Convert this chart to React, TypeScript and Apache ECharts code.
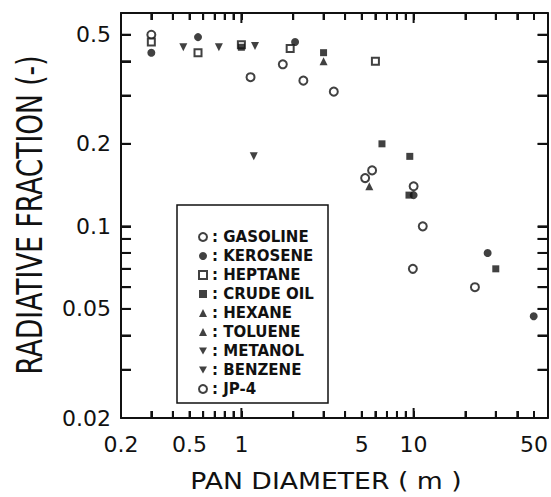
import { useEffect, useRef } from "react";
import * as echarts from "echarts";

// Axis ticks and labels (pan diameter in m, radiative fraction)
const xLabelValues = [0.2, 0.5, 1, 5, 10, 50];
const xTicks = [0.3, 0.4, 0.5, 0.6, 0.7, 0.8, 0.9, 1, 2, 3, 4, 5, 6, 7, 8, 9, 10, 20, 30, 40, 50];
const xMajorTicks = [1, 10];
const yLabelValues = [0.02, 0.05, 0.1, 0.2, 0.5];
const yTicks = [0.03, 0.04, 0.05, 0.06, 0.07, 0.08, 0.09, 0.1, 0.2, 0.3, 0.4, 0.5];

// Measured points: [pan diameter (m), radiative fraction (-)]
const gasoline = [[0.3, 0.5], [1.13, 0.35], [1.74, 0.39], [2.29, 0.34], [3.44, 0.31]];
const kerosene = [[0.3, 0.43], [0.56, 0.49], [2.05, 0.47], [10.0, 0.13], [26.9, 0.08], [49.8, 0.047]];
const heptane = [[0.3, 0.47], [0.56, 0.43], [1.0, 0.46], [1.92, 0.445], [6.0, 0.4]];
const crudeOil = [[1.0, 0.45], [3.0, 0.43], [6.55, 0.2], [9.5, 0.18], [9.4, 0.13], [30, 0.07]];
const hexane = [[5.53, 0.14]];
const toluene = [[3.0, 0.4]];
const metanol = [[1.18, 0.18]];
const benzene = [[0.46, 0.45], [0.74, 0.45], [1.2, 0.455]];
const jp4 = [[5.23, 0.15], [5.74, 0.16], [10.0, 0.14], [11.3, 0.1], [9.9, 0.07], [22.7, 0.06]];

const X_MIN = 0.2;
const X_MAX = 60;
const Y_MIN = 0.02;
const Y_MAX = 0.6;

const FONT = "DejaVu Sans";
const INK = "#111";
const DOWN_TRIANGLE = "path://M0,0L10,0L5,9Z";

function scatter(name: string, data: number[][], symbol: string, size: number, rotate = 0) {
  const empty = symbol.startsWith("empty");
  return {
    type: "scatter",
    name,
    data,
    symbol,
    symbolSize: size,
    symbolRotate: rotate,
    itemStyle: { color: INK, borderColor: INK, borderWidth: empty ? 1.5 : 0 },
    z: 3,
  };
}

const fuelSeries = [
  scatter("GASOLINE", gasoline, "emptyCircle", 8),
  scatter("KEROSENE", kerosene, "circle", 8),
  scatter("HEPTANE", heptane, "emptyRect", 7),
  scatter("CRUDE OIL", crudeOil, "rect", 7),
  scatter("HEXANE", hexane, "triangle", 8),
  scatter("TOLUENE", toluene, "triangle", 8),
  scatter("METANOL", metanol, "triangle", 8, 180),
  scatter("BENZENE", benzene, "triangle", 8, 180),
  scatter("JP-4", jp4, "emptyCircle", 8),
];

function xAxis(position: string, withLabels: boolean) {
  return {
    type: "log",
    min: X_MIN,
    max: X_MAX,
    position,
    axisLine: { show: true, lineStyle: { color: INK, width: 2 } },
    axisTick: { show: true, inside: true, length: 7, customValues: xTicks, lineStyle: { color: INK, width: 2 } },
    axisLabel: withLabels
      ? {
          show: true,
          customValues: xLabelValues,
          formatter: (v: number) => String(v),
          margin: 15,
          fontSize: 22,
          fontFamily: FONT,
          color: INK,
        }
      : { show: false },
    splitLine: { show: false },
  };
}

function yAxis(position: string, withLabels: boolean) {
  return {
    type: "log",
    min: Y_MIN,
    max: Y_MAX,
    position,
    axisLine: { show: true, lineStyle: { color: INK, width: 2 } },
    axisTick: { show: true, inside: true, length: 10, customValues: yTicks, lineStyle: { color: INK, width: 2 } },
    axisLabel: withLabels
      ? {
          show: true,
          customValues: yLabelValues,
          formatter: (v: number) => String(v),
          margin: 10,
          fontSize: 22,
          fontFamily: FONT,
          color: INK,
        }
      : { show: false },
    splitLine: { show: false },
  };
}

const staticGraphics = [
  {
    id: "legend-box",
    type: "rect",
    shape: { x: 177, y: 205, width: 151, height: 198 },
    style: { fill: "none", stroke: INK, lineWidth: 1.5 },
  },
  {
    id: "x-title",
    type: "text",
    x: 326,
    y: 481,
    scaleX: 1.16,
    style: {
      text: "PAN DIAMETER ( m )",
      fontFamily: FONT,
      fontSize: 23,
      fill: INK,
      align: "center",
      verticalAlign: "middle",
    },
  },
  {
    id: "y-title",
    type: "text",
    x: 29,
    y: 215,
    rotation: Math.PI / 2,
    scaleY: 1.35,
    style: {
      text: "RADIATIVE FRACTION (-)",
      fontFamily: FONT,
      fontSize: 26.5,
      fill: INK,
      align: "center",
      verticalAlign: "middle",
    },
  },
];

const option = {
  animation: false,
  grid: { left: 121, right: -2, top: 13, bottom: 79 },
  xAxis: [xAxis("bottom", true), xAxis("top", false)],
  yAxis: [yAxis("left", true), yAxis("right", false)],
  legend: {
    orient: "vertical",
    left: 198,
    top: 229.5,
    padding: 0,
    itemGap: 4,
    itemWidth: 8,
    itemHeight: 8,
    formatter: (n: string) => ": " + n,
    textStyle: { fontFamily: FONT, fontWeight: "bold", fontSize: 15, lineHeight: 15, color: INK },
    data: fuelSeries.map((s) => (s.symbolRotate === 180 ? { name: s.name, icon: DOWN_TRIANGLE } : { name: s.name })),
  },
  graphic: staticGraphics,
  series: fuelSeries,
};

// Frame tick marks on all four edges, positioned through the log axes.
function frameTicks(chart: echarts.ECharts) {
  const px = (v: number) => chart.convertToPixel({ xAxisIndex: 0 }, v) as number;
  const py = (v: number) => chart.convertToPixel({ yAxisIndex: 0 }, v) as number;
  const left = px(X_MIN);
  const right = px(X_MAX);
  const bottom = py(Y_MIN);
  const top = py(Y_MAX);
  const out: any[] = [];
  const seg = (x1: number, y1: number, x2: number, y2: number) =>
    out.push({
      id: "tick-" + out.length,
      type: "line",
      shape: { x1, y1, x2, y2 },
      style: { stroke: INK, lineWidth: 2 },
    });
  xTicks.forEach((v) => {
    const len = xMajorTicks.includes(v) ? 10 : 7;
    const x = px(v);
    seg(x, bottom, x, bottom - len);
    seg(x, top, x, top + len);
  });
  yTicks.forEach((v) => {
    const y = py(v);
    seg(left, y, left + 10, y);
    seg(right, y, right - 10, y);
  });
  return out;
}

export default function App() {
  const ref = useRef<HTMLDivElement>(null);
  useEffect(() => {
    document.body.style.margin = "0";
    const chart = echarts.init(ref.current!, null, { renderer: "svg" });
    chart.setOption(option as any);
    try {
      chart.setOption({ graphic: [...staticGraphics, ...frameTicks(chart)] } as any);
    } catch (e) {
      // keep the axis ticks alone if pixel conversion is unavailable
    }
    return () => chart.dispose();
  }, []);
  return <div ref={ref} style={{ width: 551, height: 497 }} />;
}
